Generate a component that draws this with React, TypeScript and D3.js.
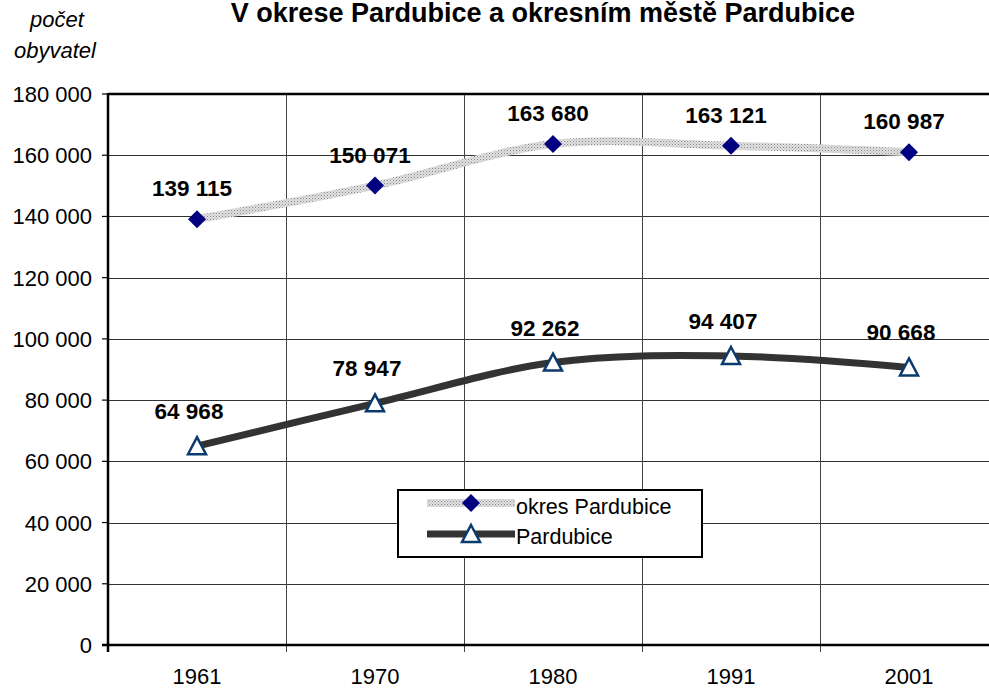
import React, { useEffect, useRef } from "react";
import * as d3 from "d3";

const years = ["1961", "1970", "1980", "1991", "2001"];
const okresValues = [139115, 150071, 163680, 163121, 160987];
const mestoValues = [64968, 78947, 92262, 94407, 90668];
const yTicks = [0, 20000, 40000, 60000, 80000, 100000, 120000, 140000, 160000, 180000];

const FONT = "'Liberation Sans', Arial, sans-serif";
const cz = d3.formatLocale({ decimal: ",", thousands: " ", grouping: [3], currency: ["", " Kč"] });
const fmt = cz.format(",");

const App = () => {
  const ref = useRef(null);

  useEffect(() => {
    const svg = d3.select(ref.current);
    svg.selectAll("*").remove();

    const left = 108;
    const top = 94;
    const bottom = 645;
    const right = 998;

    const x = d3.scaleBand().domain(years).range([left, right]);
    const y = d3.scaleLinear().domain([0, 180000]).range([bottom, top]);
    const cx = (d) => x(d) + x.bandwidth() / 2;

    // stipple pattern for the district line
    const defs = svg.append("defs");
    const pat = defs
      .append("pattern")
      .attr("id", "stipple")
      .attr("patternUnits", "userSpaceOnUse")
      .attr("width", 3)
      .attr("height", 3);
    pat.append("rect").attr("width", 3).attr("height", 3).attr("fill", "#e0e0e0");
    pat.append("rect").attr("x", 0).attr("y", 0).attr("width", 1).attr("height", 1).attr("fill", "#888");
    pat.append("rect").attr("x", 1.5).attr("y", 1.5).attr("width", 1).attr("height", 1).attr("fill", "#aaa");

    // title
    svg
      .append("text")
      .attr("x", 543)
      .attr("y", 22)
      .attr("text-anchor", "middle")
      .style("font-family", FONT)
      .style("font-weight", "bold")
      .style("font-size", "27px")
      .text("V okrese Pardubice a okresním městě Pardubice");

    const axTitle = svg
      .append("text")
      .attr("text-anchor", "middle")
      .style("font-family", FONT)
      .style("font-style", "italic")
      .style("font-size", "22px");
    axTitle.append("tspan").attr("x", 57).attr("y", 27).text("počet");
    axTitle.append("tspan").attr("x", 55).attr("y", 58).text("obyvatel");

    // horizontal gridlines
    svg
      .append("g")
      .selectAll("line")
      .data(yTicks.filter((t) => t > 0 && t < 180000))
      .join("line")
      .attr("x1", left)
      .attr("x2", right)
      .attr("y1", (d) => Math.round(y(d)) + 0.5)
      .attr("y2", (d) => Math.round(y(d)) + 0.5)
      .attr("stroke", "#333")
      .attr("stroke-width", 1);

    // vertical gridlines at category boundaries
    const bounds = years.slice(1).map((d) => x(d));
    svg
      .append("g")
      .selectAll("line")
      .data(bounds)
      .join("line")
      .attr("x1", (d) => Math.round(d) + 0.5)
      .attr("x2", (d) => Math.round(d) + 0.5)
      .attr("y1", top)
      .attr("y2", bottom + 7)
      .attr("stroke", "#444")
      .attr("stroke-width", 1);

    // top border
    svg
      .append("line")
      .attr("x1", left)
      .attr("x2", right)
      .attr("y1", top)
      .attr("y2", top)
      .attr("stroke", "#000")
      .attr("stroke-width", 2.5);

    // y axis
    svg
      .append("line")
      .attr("x1", left)
      .attr("x2", left)
      .attr("y1", top - 1)
      .attr("y2", bottom + 7)
      .attr("stroke", "#000")
      .attr("stroke-width", 2.5);
    const yt = svg.append("g").selectAll("g").data(yTicks).join("g");
    yt.append("line")
      .attr("x1", left - 6)
      .attr("x2", left)
      .attr("y1", (d) => y(d))
      .attr("y2", (d) => y(d))
      .attr("stroke", "#000")
      .attr("stroke-width", 1.2);
    yt.append("text")
      .attr("x", 92)
      .attr("y", (d) => y(d) + 8)
      .attr("text-anchor", "end")
      .style("font-family", FONT)
      .style("font-size", "22px")
      .text((d) => fmt(d));

    // x axis
    svg
      .append("line")
      .attr("x1", left - 6)
      .attr("x2", right)
      .attr("y1", bottom)
      .attr("y2", bottom)
      .attr("stroke", "#000")
      .attr("stroke-width", 2.5);
    svg
      .append("g")
      .selectAll("text")
      .data(years)
      .join("text")
      .attr("x", (d) => cx(d))
      .attr("y", 684)
      .attr("text-anchor", "middle")
      .style("font-family", FONT)
      .style("font-size", "22px")
      .text((d) => d);

    const line = d3
      .line()
      .x((d) => d[0])
      .y((d) => d[1])
      .curve(d3.curveCardinal.tension(0));

    const okresPts = years.map((d, i) => [cx(d), y(okresValues[i])]);
    const mestoPts = years.map((d, i) => [cx(d), y(mestoValues[i])]);

    svg
      .append("path")
      .attr("d", line(okresPts))
      .attr("fill", "none")
      .attr("stroke", "url(#stipple)")
      .attr("stroke-width", 8);

    svg
      .append("path")
      .attr("d", line(mestoPts))
      .attr("fill", "none")
      .attr("stroke", "#333333")
      .attr("stroke-width", 7);

    const diamond = "M0,-9L9,0L0,9L-9,0Z";
    const triangle = "M0,-9L9,8L-9,8Z";

    svg
      .append("g")
      .selectAll("path")
      .data(okresPts)
      .join("path")
      .attr("d", diamond)
      .attr("transform", (d) => `translate(${d[0]},${d[1]})`)
      .attr("fill", "#000080");

    svg
      .append("g")
      .selectAll("path")
      .data(mestoPts)
      .join("path")
      .attr("d", triangle)
      .attr("transform", (d) => `translate(${d[0]},${d[1]})`)
      .attr("fill", "#fff")
      .attr("stroke", "#0b3a6e")
      .attr("stroke-width", 2.5)
      .attr("stroke-linejoin", "miter");

    // data labels
    const labelStyle = (sel) =>
      sel
        .attr("text-anchor", "middle")
        .style("font-family", FONT)
        .style("font-weight", "bold")
        .style("font-size", "22.5px");

    svg
      .append("g")
      .selectAll("text")
      .data(okresValues)
      .join("text")
      .attr("x", (d, i) => cx(years[i]) - 5)
      .attr("y", (d) => y(d) - 23)
      .call(labelStyle)
      .text((d) => fmt(d));

    svg
      .append("g")
      .selectAll("text")
      .data(mestoValues)
      .join("text")
      .attr("x", (d, i) => cx(years[i]) - 8)
      .attr("y", (d) => y(d) - 27)
      .call(labelStyle)
      .text((d) => fmt(d));

    // legend
    const lg = svg.append("g");
    lg.append("rect")
      .attr("x", 398)
      .attr("y", 490)
      .attr("width", 304)
      .attr("height", 67)
      .attr("fill", "#fff")
      .attr("stroke", "#000")
      .attr("stroke-width", 2);
    lg.append("line")
      .attr("x1", 427)
      .attr("x2", 515)
      .attr("y1", 503)
      .attr("y2", 503)
      .attr("stroke", "url(#stipple)")
      .attr("stroke-width", 8);
    lg.append("path").attr("d", diamond).attr("transform", "translate(471,503)").attr("fill", "#000080");
    lg.append("line")
      .attr("x1", 427)
      .attr("x2", 515)
      .attr("y1", 534)
      .attr("y2", 534)
      .attr("stroke", "#333333")
      .attr("stroke-width", 7);
    lg.append("path")
      .attr("d", triangle)
      .attr("transform", "translate(471,534)")
      .attr("fill", "#fff")
      .attr("stroke", "#0b3a6e")
      .attr("stroke-width", 2.5);
    lg.append("text")
      .attr("x", 516)
      .attr("y", 514)
      .style("font-family", FONT)
      .style("font-size", "21.5px")
      .text("okres Pardubice");
    lg.append("text")
      .attr("x", 516)
      .attr("y", 544)
      .style("font-family", FONT)
      .style("font-size", "21.5px")
      .text("Pardubice");
  }, []);

  return (
    <svg
      ref={ref}
      width={989}
      height={688}
      style={{ position: "absolute", left: 0, top: 0, background: "#fff" }}
    ></svg>
  );
};

export default App;
